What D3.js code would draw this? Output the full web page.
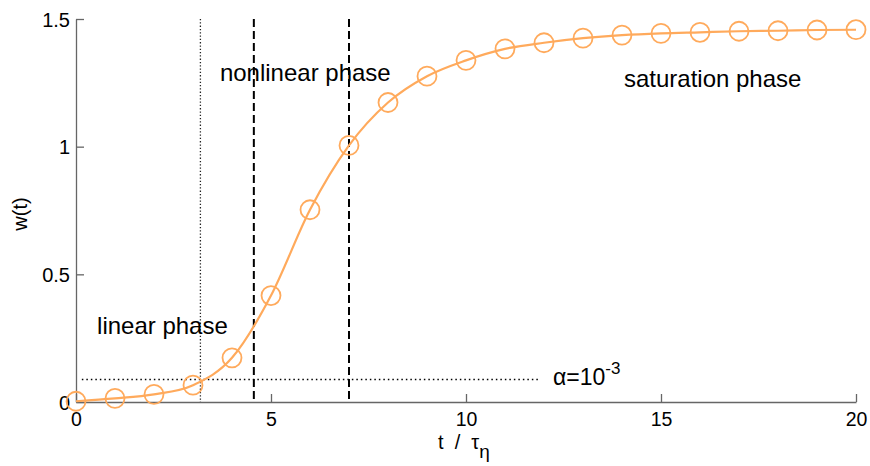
<!DOCTYPE html>
<html>
<head>
<meta charset="utf-8">
<script src="https://cdn.jsdelivr.net/npm/d3@7"></script>
<style>
  body { margin: 0; background: #fff; }
  svg text { font-family: "Liberation Sans", Arial, sans-serif; fill: #000; }
</style>
</head>
<body>
<div id="chart"></div>
<script>
// growth of w(t) against t / tau_eta
const tVals = [0, 1, 2, 3, 4, 5, 6, 7, 8, 9, 10, 11, 12, 13, 14, 15, 16, 17, 18, 19, 20];
const wVals = [0.003, 0.014, 0.03, 0.066, 0.173, 0.417, 0.753, 1.005, 1.173, 1.276, 1.338,
  1.383, 1.407, 1.425, 1.437, 1.444, 1.448, 1.452, 1.454, 1.457, 1.458];
const xTicks = [0, 5, 10, 15, 20];
const yTicks = [0, 0.5, 1, 1.5];
const linearEnd = 3.19;
const phaseDashes = [4.56, 7.0];
const alphaLevel = 0.088;
const alphaSpan = [0.15, 11.85];
const phaseLabels = [
  { text: "linear phase", t: 0.54, w: 0.268 },
  { text: "nonlinear phase", t: 3.69, w: 1.258 },
  { text: "saturation phase", t: 14.05, w: 1.235 },
];

const dimensions = {
  width: 870,
  height: 466,
  margin: { top: 19, right: 14, bottom: 64, left: 76 },
};
dimensions.boundedWidth = dimensions.width - dimensions.margin.left - dimensions.margin.right;
dimensions.boundedHeight = dimensions.height - dimensions.margin.top - dimensions.margin.bottom;

const orange = "#ffaa5c";

const xScale = d3.scaleLinear().domain([0, 20]).range([0, dimensions.boundedWidth]);
const yScale = d3.scaleLinear().domain([0, 1.5]).range([dimensions.boundedHeight, 0]);

const wrapper = d3.select("#chart").append("svg")
  .attr("width", dimensions.width)
  .attr("height", dimensions.height);
const bounds = wrapper.append("g")
  .attr("transform", `translate(${dimensions.margin.left},${dimensions.margin.top})`);

// axes, ticks pointing inwards
const xAxis = bounds.append("g")
  .attr("transform", `translate(0,${dimensions.boundedHeight})`)
  .call(d3.axisBottom(xScale).tickValues(xTicks).tickSizeInner(-8).tickSizeOuter(0).tickPadding(10));
const yAxis = bounds.append("g")
  .call(d3.axisLeft(yScale).tickValues(yTicks).tickSizeInner(-8).tickSizeOuter(0).tickPadding(6)
    .tickFormat(d3.format("")));
[xAxis, yAxis].forEach((ax) => {
  ax.select(".domain").attr("stroke", "#666").attr("stroke-width", 1.3);
  ax.selectAll(".tick line").attr("stroke", "#666").attr("stroke-width", 1.3);
  ax.selectAll(".tick text").attr("font-size", 20).attr("fill", "#000")
    .style("font-family", "Liberation Sans, Arial, sans-serif");
});
xAxis.selectAll(".tick text").attr("font-size", 19.5);
yAxis.selectAll(".tick text").attr("dy", "0.36em");

// phase boundaries
bounds.append("line")
  .attr("x1", xScale(linearEnd)).attr("x2", xScale(linearEnd))
  .attr("y1", yScale(1.5)).attr("y2", yScale(0))
  .attr("stroke", "#222").attr("stroke-width", 1.3).attr("stroke-dasharray", "1.3,2");
bounds.selectAll(".phase-dash").data(phaseDashes).join("line")
  .attr("class", "phase-dash")
  .attr("x1", (d) => xScale(d)).attr("x2", (d) => xScale(d))
  .attr("y1", yScale(1.5)).attr("y2", yScale(0))
  .attr("stroke", "#000").attr("stroke-width", 2).attr("stroke-dasharray", "8,4");

// threshold line
bounds.append("line")
  .attr("x1", xScale(alphaSpan[0])).attr("x2", xScale(alphaSpan[1]))
  .attr("y1", yScale(alphaLevel)).attr("y2", yScale(alphaLevel))
  .attr("stroke", "#000").attr("stroke-width", 1.5).attr("stroke-dasharray", "1.5,3");

// curve and markers
const lineGen = d3.line()
  .x((d, i) => xScale(tVals[i]))
  .y((d) => yScale(d))
  .curve(d3.curveMonotoneX);
bounds.append("path")
  .datum(wVals)
  .attr("d", lineGen)
  .attr("fill", "none")
  .attr("stroke", orange)
  .attr("stroke-width", 2.2);
bounds.selectAll(".marker").data(wVals).join("circle")
  .attr("class", "marker")
  .attr("cx", (d, i) => xScale(tVals[i]))
  .attr("cy", (d) => yScale(d))
  .attr("r", 9.5)
  .attr("fill", "none")
  .attr("stroke", orange)
  .attr("stroke-width", 1.8);

// annotations
bounds.selectAll(".phase-label").data(phaseLabels).join("text")
  .attr("class", "phase-label")
  .attr("x", (d) => xScale(d.t))
  .attr("y", (d) => yScale(d.w))
  .attr("font-size", 24)
  .text((d) => d.text);

const alphaText = bounds.append("text")
  .attr("x", xScale(12.23))
  .attr("y", yScale(0.068))
  .attr("font-size", 23);
alphaText.append("tspan").text("α=10");
alphaText.append("tspan").attr("dy", -11).attr("font-size", 17).text("-3");

// axis labels
const xLabel = wrapper.append("text")
  .attr("x", 438)
  .attr("y", 449)
  .attr("font-size", 20)
  .style("white-space", "pre");
xLabel.append("tspan").text("t  /  τ");
xLabel.append("tspan").attr("dy", 9).attr("font-size", 19).text("η");

wrapper.append("text")
  .attr("transform", "translate(27,214) rotate(-90)")
  .attr("text-anchor", "middle")
  .attr("font-size", 20)
  .text("w(t)");
</script>
</body>
</html>
